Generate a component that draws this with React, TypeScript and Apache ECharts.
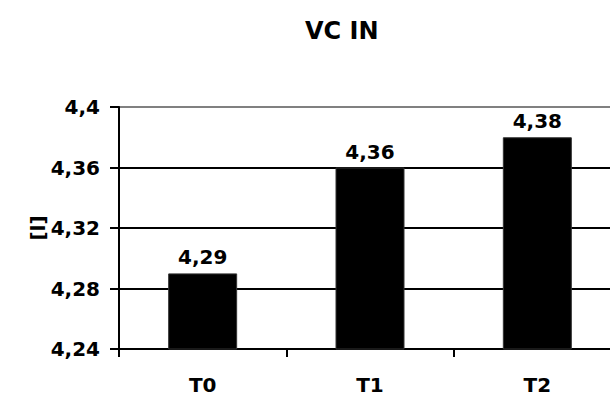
import React, { useEffect, useRef } from "react";
import * as echarts from "echarts";

const categories = ["T0", "T1", "T2"];
const values = [4.29, 4.36, 4.38];
const yMin = 4.24;
const yMax = 4.4;
const yStep = 0.04;
const yUnit = "[l]";

const FONT = "'DejaVu Sans', Arial, sans-serif";

const fmt = (v: number) => parseFloat(v.toFixed(2)).toString().replace(".", ",");

export default function App() {
  const ref = useRef<HTMLDivElement>(null);

  useEffect(() => {
    if (!ref.current) return;
    const chart = echarts.init(ref.current, undefined, { renderer: "svg" });
    chart.setOption({
      animation: false,
      backgroundColor: "#ffffff",
      title: {
        text: "VC IN",
        left: 300,
        top: 14,
        textStyle: { fontFamily: FONT, fontWeight: "bold", fontSize: 24, color: "#000" },
      },
      // plot area runs slightly past the right edge of the visible frame
      grid: { left: 119, top: 107, right: 0, bottom: 52 },
      graphic: [
        {
          type: "text",
          x: 38,
          y: 228,
          rotation: Math.PI / 2,
          style: {
            text: yUnit,
            fontFamily: FONT,
            fontWeight: "bold",
            fontSize: 20,
            fill: "#000",
            align: "center",
            verticalAlign: "middle",
          },
        },
      ],
      xAxis: {
        type: "category",
        data: categories,
        axisLine: { lineStyle: { color: "#000", width: 2 } },
        axisTick: { show: true, length: 8, lineStyle: { color: "#000", width: 2 } },
        axisLabel: {
          margin: 26,
          fontFamily: FONT,
          fontWeight: "bold",
          fontSize: 20,
          color: "#000",
        },
      },
      yAxis: {
        type: "value",
        min: yMin,
        max: yMax,
        interval: yStep,
        axisLine: { show: true, lineStyle: { color: "#000", width: 2 } },
        axisTick: { show: true, length: 9, lineStyle: { color: "#000", width: 2 } },
        axisLabel: {
          margin: 19,
          fontFamily: FONT,
          fontWeight: "bold",
          fontSize: 20,
          color: "#000",
          formatter: (v: number) => fmt(v),
        },
        splitLine: {
          show: true,
          lineStyle: { color: ["#000", "#000", "#000", "#000", "#808080"], width: 2 },
        },
      },
      series: [
        {
          type: "bar",
          data: values,
          barWidth: 69,
          itemStyle: { color: "#000", borderColor: "#333", borderWidth: 1 },
          label: {
            show: true,
            position: "top",
            distance: 6,
            fontFamily: FONT,
            fontWeight: "bold",
            fontSize: 20,
            color: "#000",
            formatter: (p: any) => fmt(p.value),
          },
        },
      ],
    });
    return () => chart.dispose();
  }, []);

  return (
    <div
      style={{
        position: "fixed",
        left: 0,
        top: 0,
        width: 610,
        height: 401,
        overflow: "hidden",
        background: "#fff",
      }}
    >
      <div ref={ref} style={{ width: 621, height: 401 }} />
    </div>
  );
}
